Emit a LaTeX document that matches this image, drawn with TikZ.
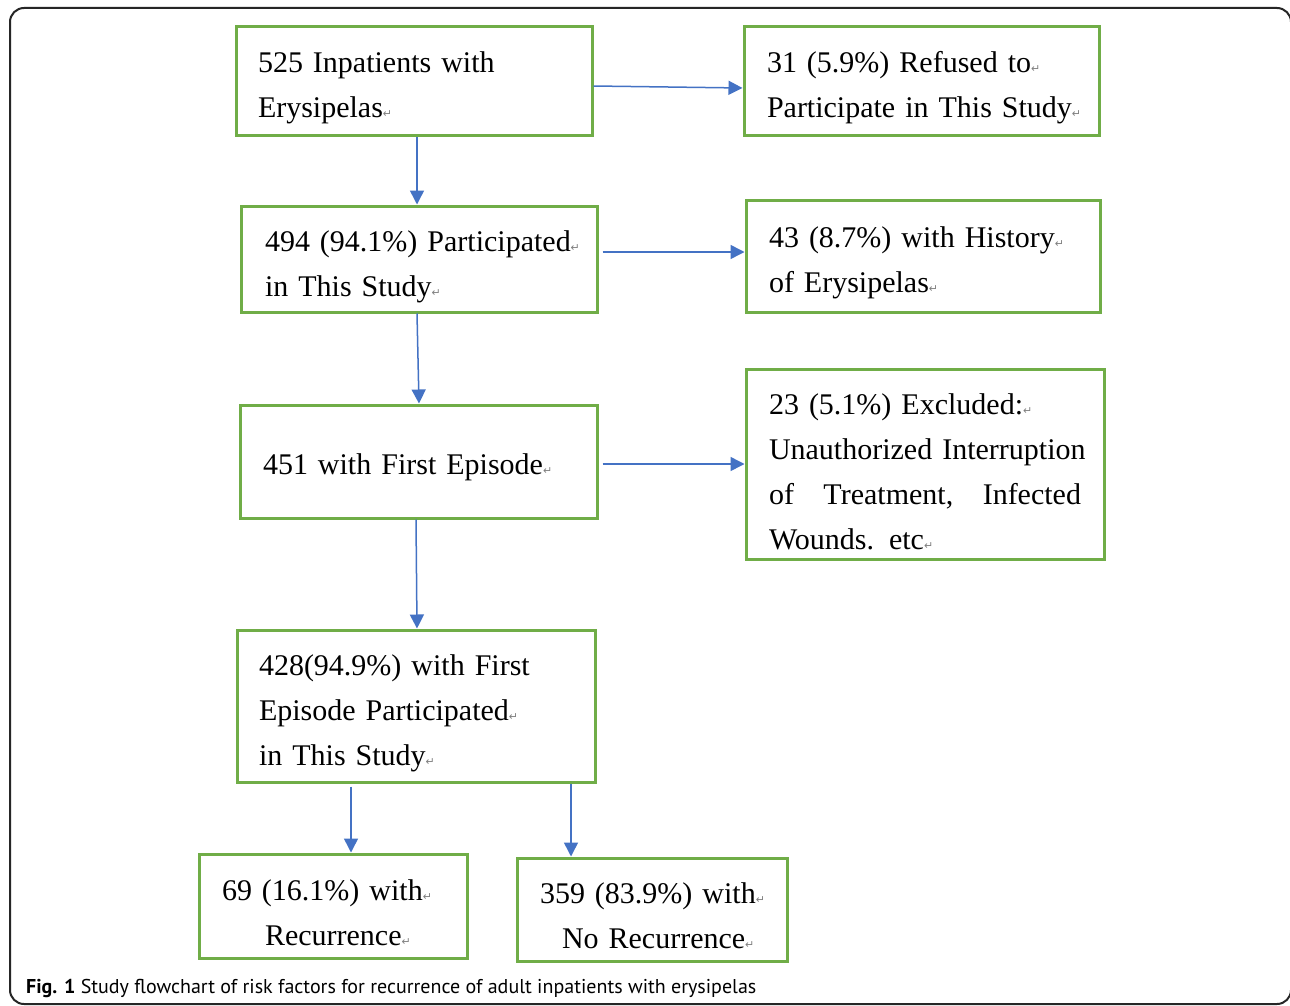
\documentclass[tikz,border=0pt]{standalone}
\usepackage{fontspec}
\setmainfont{Liberation Serif}[WordSpace=0.8]
\newfontfamily\capfont{PT Sans}
\newfontfamily\dvs{DejaVu Sans}
\usetikzlibrary{arrows.meta}
\definecolor{boxgreen}{RGB}{112,173,71}
\definecolor{arrblue}{RGB}{68,114,196}
\newcommand\pmk{{\dvs\fontsize{11}{11}\selectfont\textcolor{gray}{↵}}}
\newcommand\txtline[1]{\mbox{#1}}
\newcommand\topstrut{\rule{0pt}{34pt}}
\begin{document}
\begin{tikzpicture}[x=1pt,y=-1pt,
  fbox/.style={draw=boxgreen, line width=3pt, inner xsep=23pt, inner ysep=0pt,
    align=left, font=\fontsize{30}{45}\selectfont},
  arr/.style={draw=arrblue, line width=1.5pt, -{Triangle[length=14pt,width=14pt]}}]
\useasboundingbox (0,0) rectangle (1290,1006);
\clip (0,0) rectangle (1290,1006);
\fill[white] (0,0) rectangle (1290,1006);
\draw[line width=2pt, rounded corners=14pt, black!85] (10,8) rectangle (1291,1004);

\node[fbox, inner xsep=22pt, minimum width=356pt, minimum height=109pt, text width=312pt] (b1) at (414,81.5)
  {\txtline{\topstrut 525 Inpatients with}\\\txtline{Erysipelas\pmk}};
\node[fbox, minimum width=355pt, minimum height=109pt, text width=309pt] (r1) at (921.5,81.5)
  {\txtline{\topstrut 31 (5.9\%) Refused to\pmk}\\\txtline{Participate in This Study\pmk}};
\node[fbox, inner xsep=24pt, minimum width=356pt, minimum height=106pt, text width=308pt] (b2) at (419,259)
  {\txtline{\rule{0pt}{36pt}494 (94.1\%) Participated\pmk}\\\txtline{in This Study\pmk}};
\node[fbox, minimum width=354pt, minimum height=112pt, text width=308pt] (r2) at (923,256)
  {\txtline{\topstrut 43 (8.7\%) with History\pmk}\\\txtline{of Erysipelas\pmk}};
\node[fbox, minimum width=357pt, minimum height=113pt, text width=311pt] (b3) at (418.5,461.5)
  {\txtline{\rule{0pt}{32.5pt}451 with First Episode\pmk}};
\node[fbox, minimum width=358pt, minimum height=190pt, text width=312pt] (r3) at (925,464)
  {\txtline{\rule{0pt}{37pt}23 (5.1\%) Excluded:\pmk}\\\txtline{Unauthorized Interruption}\\\makebox[312pt][l]{of\hfill Treatment,\hfill Infected}\\\txtline{Wounds. etc\pmk}};
\node[fbox, inner xsep=22pt, minimum width=358pt, minimum height=152pt, text width=314pt] (b4) at (416,706)
  {\txtline{\rule{0pt}{35.5pt}428(94.9\%) with First}\\\txtline{Episode Participated\pmk}\\\txtline{in This Study\pmk}};
\node[fbox, minimum width=268pt, minimum height=104pt, text width=222pt] (b5) at (333,906)
  {\txtline{\topstrut 69 (16.1\%) with\pmk}\\\txtline{\hspace*{43pt}Recurrence\pmk}};
\node[fbox, minimum width=270pt, minimum height=103pt, text width=224pt] (b6) at (652,909.5)
  {\txtline{\topstrut 359 (83.9\%) with\pmk}\\\txtline{\hspace*{22pt}No Recurrence\pmk}};

\draw[arr] ([xshift=3pt]b1.south) -- ([xshift=-2pt]b2.north);
\draw[arr] ([yshift=-4.5pt]b1.east) -- ([yshift=-6.5pt]r1.west);
\draw[arr] ([xshift=-2pt]b2.south) -- ([xshift=0.5pt]b3.north);
\draw[arr] ([xshift=4pt,yshift=7pt]b2.east) -- ([yshift=4pt]r2.west);
\draw[arr] ([xshift=-2.5pt]b3.south) -- ([xshift=1pt]b4.north);
\draw[arr] ([xshift=4pt,yshift=-2.5pt]b3.east) -- (r3.west);
\draw[arr] ([xshift=-65pt,yshift=-3pt]b4.south) -- ([xshift=18pt]b5.north);
\draw[arr] ([xshift=155pt]b4.south) -- ([xshift=-81pt]b6.north);

\node[anchor=west, inner sep=0pt, font=\capfont\fontsize{20}{23}\selectfont] (cap) at (26,988)
  {\textbf{Fig. 1} Study flowchart of risk factors for recurrence of adult inpatients with erysipelas};
\end{tikzpicture}
\end{document}
